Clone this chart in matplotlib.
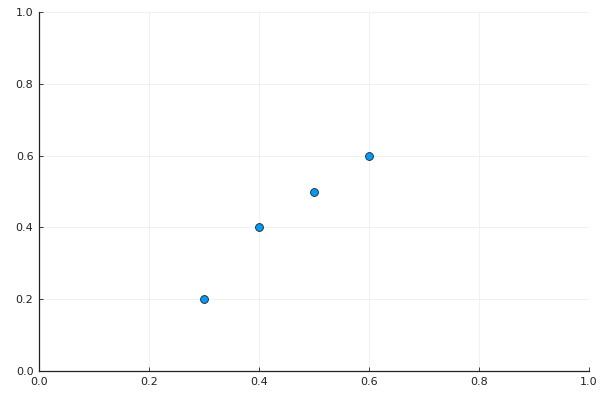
import matplotlib
matplotlib.use('Agg')
import matplotlib.pyplot as plt

x = [0.3, 0.4, 0.5, 0.6]
y = [0.2, 0.4, 0.5, 0.6]
ticks = [0.0, 0.2, 0.4, 0.6, 0.8, 1.0]

fig = plt.figure(figsize=(6, 4), dpi=100)
ax = fig.add_axes([0.065, 0.0725, 0.9167, 0.8975])

ax.scatter(x, y, s=32, color='#009AFA', edgecolors='#222222', linewidths=0.6, zorder=3)

ax.set_xlim(0, 1)
ax.set_ylim(0, 1)
ax.set_xticks(ticks)
ax.set_yticks(ticks)
ax.set_xticklabels(['%.1f' % t for t in ticks])
ax.set_yticklabels(['%.1f' % t for t in ticks])
ax.grid(True, color='#eeeeee', linewidth=0.6)
ax.set_axisbelow(True)
for s in ['top', 'right']:
    ax.spines[s].set_visible(False)
for s in ['left', 'bottom']:
    ax.spines[s].set_linewidth(0.9)
    ax.spines[s].set_color('#222222')
ax.tick_params(direction='in', length=3, width=0.6, labelsize=8, colors='#222222', pad=4)

fig.savefig('out.png', dpi=100)
